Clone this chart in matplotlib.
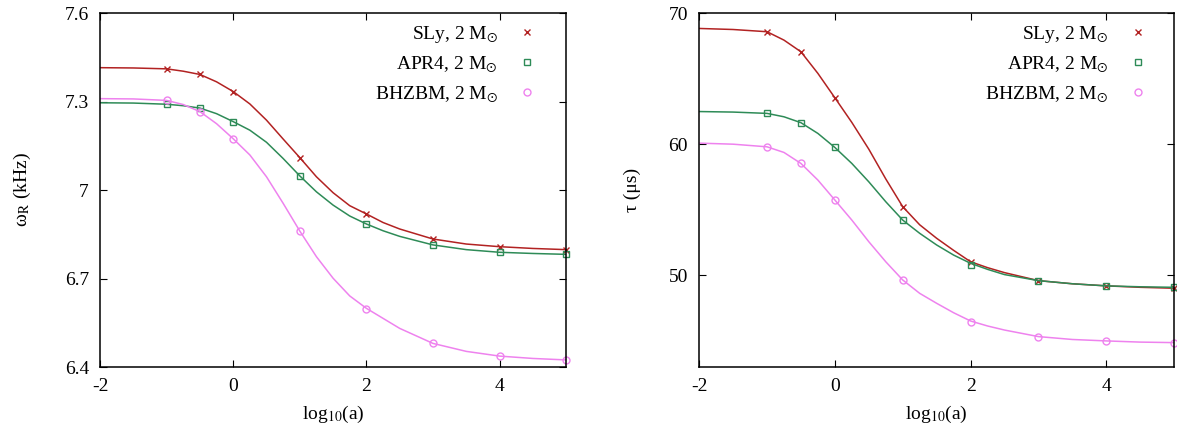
import numpy as np
import matplotlib
matplotlib.use("Agg")
import matplotlib.pyplot as plt
from matplotlib.lines import Line2D

plt.rcParams['font.family'] = ['Liberation Serif', 'DejaVu Serif']
plt.rcParams['mathtext.fontset'] = 'stix'
plt.rcParams['axes.unicode_minus'] = False
plt.rcParams['font.size'] = 13

# ------------------------------
# data
# ------------------------------
# sampled points (markers)
x_pts = [-1, -0.5, 0, 1, 2, 3, 4, 5]
omega_sly = [7.411, 7.392, 7.334, 7.110, 6.919, 6.834, 6.808, 6.798]
omega_apr4 = [7.291, 7.278, 7.232, 7.049, 6.885, 6.814, 6.789, 6.782]
omega_bhzbm = [7.304, 7.266, 7.174, 6.862, 6.598, 6.480, 6.437, 6.424]

tau_sly = [68.58, 67.07, 63.51, 55.24, 51.04, 49.59, 49.19, 49.01]
tau_apr4 = [62.37, 61.65, 59.77, 54.22, 50.81, 49.59, 49.19, 49.08]
tau_bhzbm = [59.82, 58.55, 55.75, 49.64, 46.46, 45.32, 44.99, 44.86]

# fitted curves
x_fit = [-2, -1.5, -1, -0.75, -0.5, -0.25, 0, 0.25, 0.5, 0.75, 1, 1.25, 1.5,
         1.75, 2, 2.25, 2.5, 3, 3.5, 4, 4.5, 5]
omega_sly_fit = [7.415, 7.414, 7.411, 7.403, 7.392, 7.367, 7.334, 7.292, 7.237,
                 7.173, 7.110, 7.045, 6.991, 6.947, 6.919, 6.890, 6.868, 6.834,
                 6.817, 6.808, 6.802, 6.798]
omega_apr4_fit = [7.296, 7.295, 7.291, 7.286, 7.278, 7.259, 7.232, 7.203, 7.162,
                  7.107, 7.048, 6.994, 6.949, 6.912, 6.885, 6.862, 6.843, 6.814,
                  6.798, 6.789, 6.785, 6.782]
omega_bhzbm_fit = [7.310, 7.309, 7.304, 7.290, 7.266, 7.225, 7.174, 7.119, 7.045,
                   6.955, 6.861, 6.774, 6.701, 6.641, 6.599, 6.565, 6.531, 6.480,
                   6.453, 6.437, 6.429, 6.424]

tau_sly_fit = [68.83, 68.75, 68.58, 67.94, 67.05, 65.40, 63.54, 61.66, 59.62,
               57.35, 55.23, 53.85, 52.82, 51.90, 51.03, 50.58, 50.20, 49.59,
               49.35, 49.19, 49.08, 49.01]
tau_apr4_fit = [62.49, 62.45, 62.35, 62.09, 61.64, 60.82, 59.75, 58.53, 57.13,
                55.61, 54.21, 53.20, 52.31, 51.54, 50.91, 50.45, 50.05, 49.59,
                49.35, 49.19, 49.12, 49.08]
tau_bhzbm_fit = [60.08, 60.00, 59.80, 59.37, 58.53, 57.26, 55.74, 54.21, 52.56,
                 51.03, 49.64, 48.62, 47.86, 47.14, 46.51, 46.13, 45.82, 45.32,
                 45.10, 44.99, 44.90, 44.86]

labels = ['SLy, 2 M$_{\\odot}$', 'APR4, 2 M$_{\\odot}$', 'BHZBM, 2 M$_{\\odot}$']
colors = ['#b22222', '#2e8b57', '#ee82ee']
markers = ['x', 's', 'o']

fig = plt.figure(figsize=(11.77, 4.30), dpi=100)
ax1 = fig.add_axes([0.085, 0.1465, 0.396, 0.823])
ax2 = fig.add_axes([0.594, 0.1465, 0.4036, 0.823])


def draw(ax, pts, fits, anchor_x):
    handles = []
    for y, yf, c, m, lab in zip(pts, fits, colors, markers, labels):
        ax.plot(x_fit, yf, color=c, lw=1.1)
        ax.plot(x_pts, y, ls='none', marker=m, ms=5, mfc='none', mec=c,
                mew=1.0, clip_on=False)
        handles.append(Line2D([], [], ls='none', marker=m, ms=5, mfc='none',
                              mec=c, mew=1.0, label=lab))
    ax.legend(handles=handles, loc='upper right', frameon=False,
              bbox_to_anchor=(anchor_x, 0.9915), borderaxespad=0.0,
              markerfirst=False, handletextpad=0.75, labelspacing=0.5,
              fontsize=14, handlelength=1.5)
    ax.set_xlim(-2, 5)
    ax.set_xticks([-2, 0, 2, 4])
    ax.tick_params(direction='in', top=True, right=True, length=5,
                   labelsize=14, pad=8)
    ax.set_xlabel('log$_{10}$(a)', fontsize=14, labelpad=6)
    for s in ax.spines.values():
        s.set_linewidth(1.1)


draw(ax1, [omega_sly, omega_apr4, omega_bhzbm],
     [omega_sly_fit, omega_apr4_fit, omega_bhzbm_fit], 0.964)
ax1.set_ylim(6.4, 7.6)
ax1.set_yticks([6.4, 6.7, 7.0, 7.3, 7.6])
ax1.set_yticklabels(['6.4', '6.7', '7', '7.3', '7.6'])
ax1.set_ylabel('ω$_{\\mathrm{R}}$ (kHz)', fontsize=14, labelpad=23)

draw(ax2, [tau_sly, tau_apr4, tau_bhzbm],
     [tau_sly_fit, tau_apr4_fit, tau_bhzbm_fit], 0.97)
ax2.set_ylim(43, 70)
ax2.set_yticks([50, 60, 70])
ax2.set_ylabel('τ (μs)', fontsize=14, labelpad=20)

fig.savefig('out.png', dpi=100)
